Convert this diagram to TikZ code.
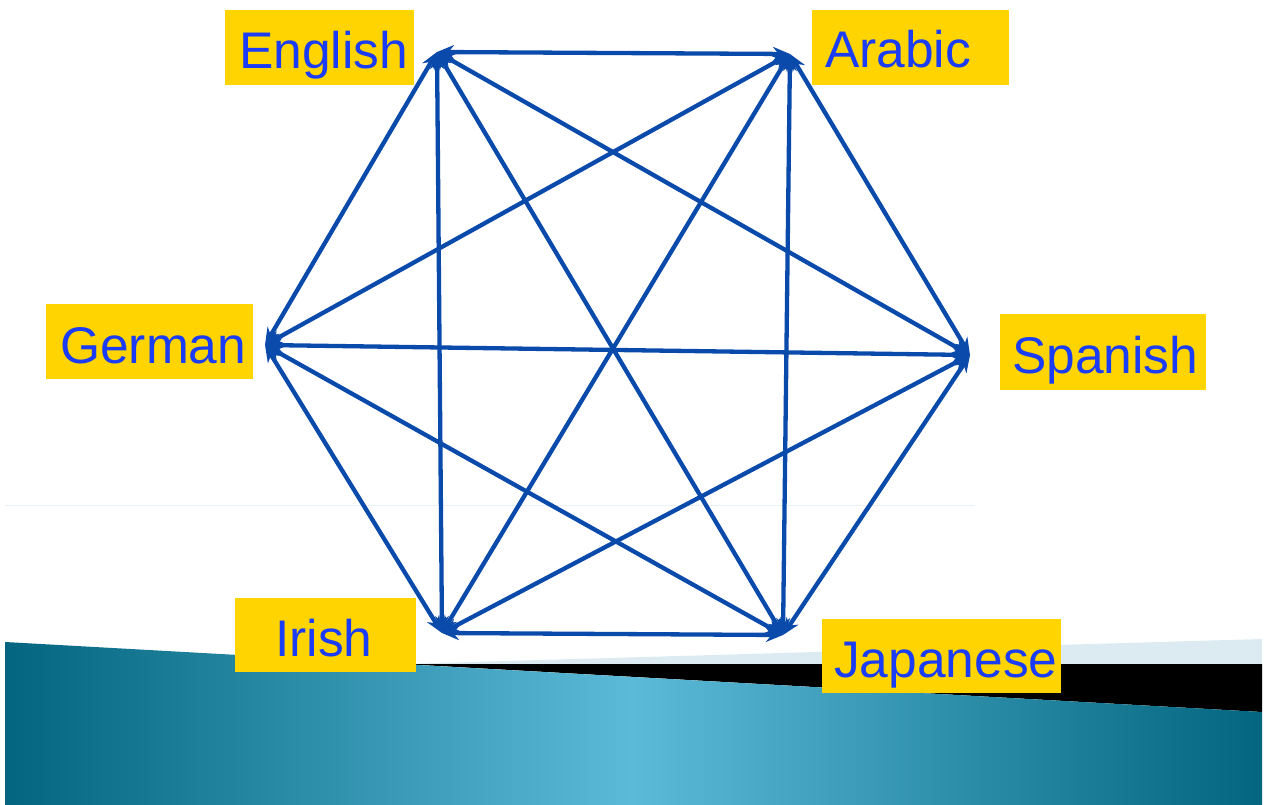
\documentclass[tikz,border=0pt]{standalone}
\usepackage{fontspec}
\setmainfont{Liberation Sans}
\usetikzlibrary{arrows.meta}
\definecolor{gold}{HTML}{FFD400}
\definecolor{txtblue}{HTML}{1A3CF5}
\definecolor{edgeblue}{HTML}{0A4AAA}
\definecolor{tealdark}{HTML}{03657F}
\definecolor{teallight}{HTML}{5BBAD8}
\definecolor{paleblue}{HTML}{DCEBF2}
\tikzset{
  link/.style={draw=edgeblue, line width=4.3pt, {Stealth[length=17pt,width=14pt]}-{Stealth[length=17pt,width=14pt]}},
  labtxt/.style={text=txtblue, inner sep=0pt, anchor=base west, font=\fontsize{51.5}{60}\selectfont},
  labbox/.style={fill=gold, draw=none}
}
\begin{document}
\begin{tikzpicture}[x=1pt, y=-1pt]
\useasboundingbox (0,0) rectangle (1265,805);
% background decoration
\draw[paleblue!70, line width=1pt] (5,505) -- (975,505);
\fill[paleblue] (403,664) -- (1262,639) -- (1262,664) -- cycle;
\fill[black] (403,664) -- (1262,664) -- (1262,712) -- cycle;
\shade[left color=tealdark, right color=tealdark, middle color=teallight]
  (5,642) -- (1262,712) -- (1262,805) -- (5,805) -- cycle;
% vertices
\coordinate (E) at (437,52);
\coordinate (A) at (790,54);
\coordinate (G) at (265,345);
\coordinate (S) at (970,355);
\coordinate (I) at (442,633);
\coordinate (J) at (783,635);
% connectors
\foreach \a/\b in {E/A,E/G,E/S,E/I,E/J,A/G,A/S,A/I,A/J,G/S,G/I,G/J,S/I,S/J,I/J}
  \draw[link] (\a) -- (\b);
% labels
\fill[labbox] (225,10) rectangle (414,85);
\node[labtxt] (en) at (239,69) {English};
\fill[labbox] (812,10) rectangle (1009,85);
\node[labtxt] (ar) at (825,68) {Arabic};
\fill[labbox] (46,304) rectangle (253,379);
\node[labtxt] (de) at (60,363) {German};
\fill[labbox] (1000,314) rectangle (1206,390);
\node[labtxt] (es) at (1012,373) {Spanish};
\fill[labbox] (235,598) rectangle (416,672);
\node[labtxt] (ga) at (275,656) {Irish};
\fill[labbox] (822,619) rectangle (1061,693);
\node[labtxt] (ja) at (834,677) {Japanese};
\end{tikzpicture}
\end{document}
